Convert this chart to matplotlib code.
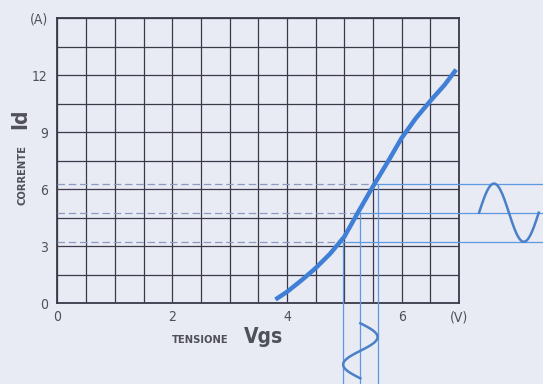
import matplotlib.pyplot as plt
from matplotlib import font_manager
import numpy as np

# Id(Vgs) transfer curve
vgs = [3.8, 4.0, 4.25, 4.5, 4.75, 5.0, 5.25, 5.5, 5.75, 6.0, 6.25, 6.5, 6.75, 6.95]
id_a = [0.2, 0.6, 1.2, 1.85, 2.6, 3.5, 4.84, 6.15, 7.4, 8.7, 9.75, 10.65, 11.5, 12.3]

# working points: low / mid / high
op_vgs = [4.97, 5.28, 5.58]
op_cross = [4.95, 5.24, 5.53]   # where the curve meets the dashed levels
op_id = [3.24, 4.77, 6.3]

x_ticks = [0, 2, 4, 6, 7]
x_labels = ['0', '2', '4', '6', '(V)']
y_ticks = [0, 3, 6, 9, 12, 15]
y_labels = ['0', '3', '6', '9', '12', '(A)']

# the two little sine signals (input on Vgs, output on Id)
out_start, out_period, out_amp = 7.35, 1.04, 1.53
in_start, in_period, in_amp = -1.05, 2.9, 0.30

BG = '#e8eaf4'
GRID = '#3a3a48'
CURVE = '#3f7fd6'
THIN = '#5f9ae0'
TXT = '#505058'

# narrow face if there is one
installed = {f.name for f in font_manager.fontManager.ttflist}
narrow = [f.fname for f in font_manager.fontManager.ttflist
          if 'Narrow' in f.fname or 'Condensed' in f.fname]
if 'Liberation Sans Narrow' in installed:
    FONT = ['Liberation Sans Narrow', 'DejaVu Sans']
else:
    FONT = ['DejaVu Sans']
STRETCH = 'condensed'

fig = plt.figure(figsize=(5.43, 3.84), dpi=100, facecolor=BG)
W, H = 543, 384
ax = fig.add_axes([57.5 / W, 1 - 303.3 / H, (459 - 57.5) / W, (303.3 - 18.3) / H])
ax.set_facecolor(BG)
ax.set_xlim(0, 7)
ax.set_ylim(0, 15)

ax.set_xticks(np.arange(0, 7.01, 0.5), minor=True)
ax.set_yticks(np.arange(0, 15.01, 1.5), minor=True)
ax.set_xticks(x_ticks)
ax.set_yticks(y_ticks)
ax.grid(which='both', color=GRID, linewidth=0.9)
ax.set_axisbelow(True)
ax.set_xticklabels(x_labels, family=FONT, stretch=STRETCH, fontsize=10, color=TXT)
ax.set_yticklabels(y_labels, family=FONT, stretch=STRETCH, fontsize=10, color=TXT)
ax.tick_params(which='both', length=0)
ax.tick_params(axis='x', pad=5)
ax.tick_params(axis='y', pad=7)
for s in ax.spines.values():
    s.set_color(GRID)
    s.set_linewidth(1.3)

x_right = 8.5
y_bottom = -4.4

# dashed levels from the Id axis to the curve, then solid out to the right
for xc, xv, yv in zip(op_cross, op_vgs, op_id):
    ax.plot([0, xc], [yv, yv], color='#8c9cc0', linewidth=0.9, linestyle=(0, (6, 3)), zorder=3)
    ax.plot([xc, x_right], [yv, yv], color=THIN, linewidth=0.9, clip_on=False, zorder=3)
    ax.plot([xv, xv], [yv, y_bottom], color=THIN, linewidth=0.9, clip_on=False, zorder=3)

ax.plot(vgs, id_a, color=CURVE, linewidth=3.2, solid_capstyle='butt',
        solid_joinstyle='round', zorder=5)

t = np.linspace(0, 1, 80)
ax.plot(out_start + t * out_period, op_id[1] + out_amp * np.sin(2 * np.pi * t),
        color='#4a80c8', linewidth=1.8, clip_on=False, zorder=4)
ax.plot(op_vgs[1] + in_amp * np.sin(2 * np.pi * t), in_start - t * in_period,
        color='#4a80c8', linewidth=1.8, clip_on=False, zorder=4)

# axis captions
fig.text(26 / W, 1 - 205 / H, 'CORRENTE', rotation=90, rotation_mode='anchor',
         ha='left', va='baseline', family=FONT, stretch=STRETCH, fontsize=8,
         fontweight='bold', color=TXT)
fig.text(26 / W, 1 - 129 / H, 'Id', rotation=90, rotation_mode='anchor',
         ha='left', va='baseline', family=FONT, stretch=STRETCH, fontsize=15,
         fontweight='bold', color=TXT)
fig.text(172 / W, 1 - 343 / H, 'TENSIONE', ha='left', va='baseline',
         family=FONT, stretch=STRETCH, fontsize=8, fontweight='bold', color=TXT)
fig.text(244 / W, 1 - 343 / H, 'Vgs', ha='left', va='baseline',
         family=FONT, stretch=STRETCH, fontsize=15, fontweight='bold', color=TXT)

fig.savefig('out.png', dpi=100, facecolor=BG)
